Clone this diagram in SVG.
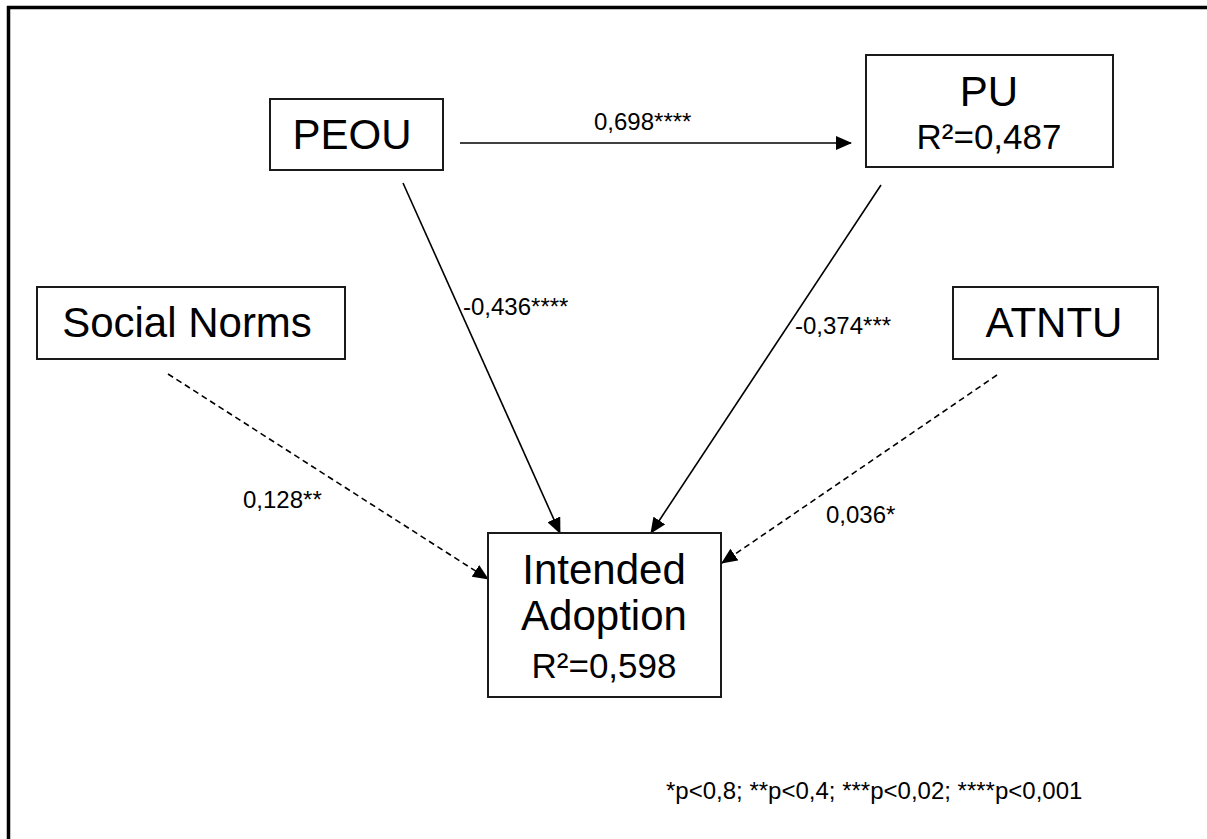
<svg xmlns="http://www.w3.org/2000/svg" width="1207" height="839" viewBox="0 0 1207 839">
  <style>
    .box { fill: #fff; stroke: #1a1a1a; stroke-width: 2; }
    .title { font-family: "Liberation Sans", Arial, sans-serif; font-size: 42px; fill: #000; text-anchor: middle; }
    .r2 { font-family: "Liberation Sans", Arial, sans-serif; font-size: 35px; fill: #000; text-anchor: middle; }
    .lbl { font-family: "Liberation Sans", Arial, sans-serif; font-size: 24px; fill: #000; }
    .edge { stroke: #000; stroke-width: 1.6; fill: none; marker-end: url(#head); }
    .dashed { stroke-dasharray: 6 4; }
  </style>
  <defs>
    <marker id="head" markerUnits="userSpaceOnUse" markerWidth="16" markerHeight="14" viewBox="0 0 16 14" refX="15" refY="7" orient="auto">
      <path d="M0,0 L16,7 L0,14 Z" fill="#000"/>
    </marker>
  </defs>

  <!-- page frame (top and left rules) -->
  <g id="frame">
    <line x1="7" y1="7.5" x2="1207" y2="7.5" stroke="#000" stroke-width="3.5"/>
    <line x1="8.5" y1="6" x2="8.5" y2="839" stroke="#000" stroke-width="3.5"/>
  </g>

  <!-- connectors -->
  <g id="connectors">
    <line class="edge" x1="460" y1="143" x2="851" y2="143"/>
    <line class="edge" x1="403" y1="183" x2="560" y2="533"/>
    <line class="edge" x1="881" y1="185" x2="651" y2="533"/>
    <line class="edge dashed" x1="168" y1="374" x2="488" y2="579"/>
    <line class="edge dashed" x1="997" y1="375" x2="722" y2="563"/>
  </g>

  <!-- path coefficients -->
  <g id="labels">
    <text class="lbl" x="594" y="130">0,698****</text>
    <text class="lbl" x="463" y="315">-0,436****</text>
    <text class="lbl" x="795" y="334">-0,374***</text>
    <text class="lbl" x="243" y="508">0,128**</text>
    <text class="lbl" x="826" y="523">0,036*</text>
    <text class="lbl" x="666" y="799">*p&lt;0,8; **p&lt;0,4; ***p&lt;0,02; ****p&lt;0,001</text>
  </g>

  <g id="peou">
    <rect class="box" x="270" y="99" width="173" height="71"/>
    <text class="title" x="352" y="149">PEOU</text>
  </g>

  <g id="pu">
    <rect class="box" x="866" y="55" width="247" height="112"/>
    <text class="title" x="989" y="106">PU</text>
    <text class="r2" x="989" y="149">R²=0,487</text>
  </g>

  <g id="social-norms">
    <rect class="box" x="37" y="287" width="308" height="72"/>
    <text class="title" x="187" y="337">Social Norms</text>
  </g>

  <g id="atntu">
    <rect class="box" x="953" y="287" width="205" height="72"/>
    <text class="title" x="1054" y="337">ATNTU</text>
  </g>

  <g id="intended-adoption">
    <rect class="box" x="488" y="533" width="233" height="164"/>
    <text class="title" x="604" y="584">Intended</text>
    <text class="title" x="604" y="630">Adoption</text>
    <text class="r2" x="604" y="678">R²=0,598</text>
  </g>
</svg>
